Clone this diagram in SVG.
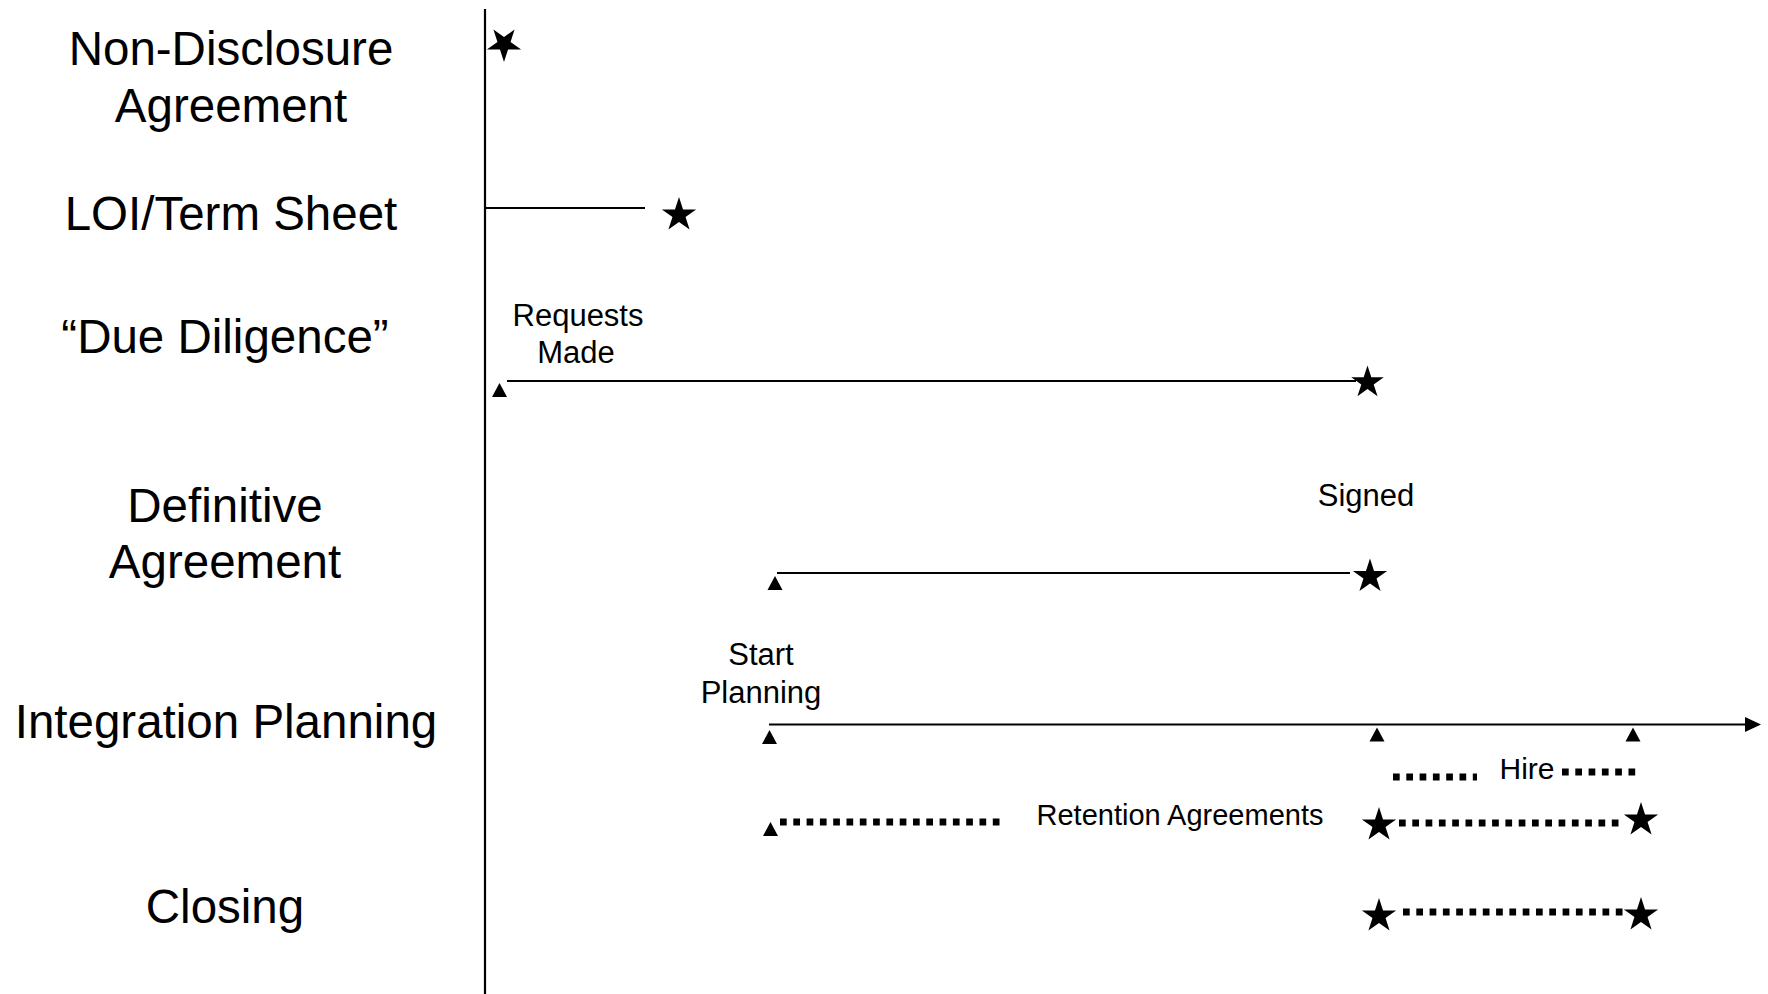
<svg xmlns="http://www.w3.org/2000/svg" xmlns:xlink="http://www.w3.org/1999/xlink" width="1768" height="994" viewBox="0 0 1768 994">
  <style>
    .lbl { font-family: "Liberation Sans", Arial, sans-serif; font-size: 47.5px; fill: #000; text-anchor: middle; }
    .sm { font-family: "Liberation Sans", Arial, sans-serif; font-size: 31px; fill: #000; text-anchor: middle; }
    .ln { stroke: #000; stroke-width: 2.2; fill: none; }
    .dot { stroke: #000; stroke-width: 7; fill: none; stroke-dasharray: 6.7 6.6; }
    .mk { fill: #000; }
  </style>
  <defs>
    <path id="star" d="M0,-18 L4.04,-5.56 L17.12,-5.56 L6.54,2.12 L10.58,14.56 L0,6.88 L-10.58,14.56 L-6.54,2.12 L-17.12,-5.56 L-4.04,-5.56 Z"/>
    <path id="tri" d="M0,0 L7.5,14 L-7.5,14 Z"/>
  </defs>
  <rect width="1768" height="994" fill="#fff"/>

  <g id="connectors">
    <line class="ln" x1="485" y1="9" x2="485" y2="994"/>
    <line class="ln" x1="485" y1="208" x2="645" y2="208"/>
    <line class="ln" x1="507" y1="381" x2="1356" y2="381"/>
    <line class="ln" x1="777" y1="573" x2="1350" y2="573"/>
    <line class="ln" x1="769" y1="724.5" x2="1746" y2="724.5"/>
    <polygon class="mk" points="1745,717 1761,724.5 1745,732"/>
    <line class="dot" x1="1393" y1="777" x2="1477" y2="777"/>
    <line class="dot" x1="1562" y1="772" x2="1636" y2="772"/>
    <line class="dot" x1="780" y1="822" x2="1002" y2="822"/>
    <line class="dot" x1="1399" y1="823" x2="1621" y2="823"/>
    <line class="dot" x1="1403" y1="912" x2="1624" y2="912"/>
  </g>

  <g id="nda">
    <text class="lbl" x="231" y="65">Non-Disclosure</text>
    <text class="lbl" x="231" y="122">Agreement</text>
    <use href="#star" class="mk" transform="translate(504,44) rotate(180)"/>
  </g>

  <g id="loi">
    <text class="lbl" x="231" y="230">LOI/Term Sheet</text>
    <use href="#star" class="mk" transform="translate(679,215)"/>
  </g>

  <g id="due-diligence">
    <text class="lbl" x="225" y="353">“Due Diligence”</text>
    <text class="sm" x="578" y="326">Requests</text>
    <text class="sm" x="576" y="363">Made</text>
    <use href="#tri" class="mk" transform="translate(499.5,383)"/>
    <use href="#star" class="mk" transform="translate(1367.5,382.5) scale(0.95)"/>
  </g>

  <g id="definitive-agreement">
    <text class="lbl" x="225" y="522">Definitive</text>
    <text class="lbl" x="225" y="578">Agreement</text>
    <text class="sm" x="1366" y="506">Signed</text>
    <use href="#tri" class="mk" transform="translate(775,576)"/>
    <use href="#star" class="mk" transform="translate(1370,576.5)"/>
  </g>

  <g id="integration-planning">
    <text class="lbl" x="226" y="738">Integration Planning</text>
    <text class="sm" x="761" y="665">Start</text>
    <text class="sm" x="761" y="703">Planning</text>
    <use href="#tri" class="mk" transform="translate(769.5,730)"/>
    <use href="#tri" class="mk" transform="translate(1377,727.5)"/>
    <use href="#tri" class="mk" transform="translate(1633,727.5)"/>
    <text class="sm" x="1527" y="779" style="font-size:30px">Hire</text>
    <use href="#tri" class="mk" transform="translate(770.5,822)"/>
    <text class="sm" x="1180" y="825" style="font-size:29px">Retention Agreements</text>
    <use href="#star" class="mk" transform="translate(1379,825)"/>
    <use href="#star" class="mk" transform="translate(1641,820)"/>
  </g>

  <g id="closing">
    <text class="lbl" x="225" y="923">Closing</text>
    <use href="#star" class="mk" transform="translate(1379,916)"/>
    <use href="#star" class="mk" transform="translate(1641,915)"/>
  </g>
</svg>
